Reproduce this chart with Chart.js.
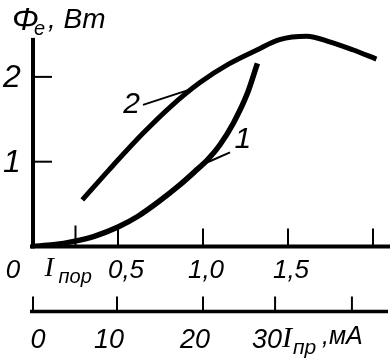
<!DOCTYPE html>
<html>
<head>
<meta charset="utf-8">
<script src="https://cdn.jsdelivr.net/npm/chart.js@4"></script>
<style>
  html, body { margin: 0; padding: 0; background: #fff; }
  #wrap { width: 392px; height: 363px; }
</style>
</head>
<body>
<div id="wrap"><canvas id="lightChart" width="392" height="363"></canvas></div>
<script>
/* DATA: radiant flux vs forward current */
// curve 1
const curve1Current = [0, 0.12, 0.24, 0.36, 0.5, 0.62, 0.74, 0.86, 0.95, 1.03, 1.10, 1.18, 1.26, 1.32];
const curve1Flux    = [0, 0.02, 0.06, 0.12, 0.23, 0.36, 0.53, 0.72, 0.88, 1.03, 1.20, 1.46, 1.80, 2.16];
// curve 2
const curve2Current = [0.29, 0.45, 0.65, 0.81, 0.98, 1.15, 1.32, 1.45, 1.61, 1.75, 1.88, 2.02];
const curve2Flux    = [0.55, 0.91, 1.34, 1.65, 1.93, 2.15, 2.32, 2.44, 2.48, 2.41, 2.32, 2.21];

// tick values and labels
const xTickValues = [0.25, 0.5, 1.0, 1.5, 2.0];
const xTickLabels = ['I', '0,5', '1,0', '1,5', ''];   // first one gets the "пор" subscript
const yTickValues = [1, 2];
const yTickLabels = ['1', '2'];
const mATickAt    = [0, 0.494, 1.0, 1.424, 1.876];  // where the mA ticks sit on the main scale
const mATickLabels = ['0', '10', '20', '30', ''];

/*========================================================== */
const ink = '#000';
const sans = (size) => `italic ${size}px "Liberation Sans", Arial, sans-serif`;
const serif = (size) => `italic ${size}px "Liberation Serif", serif`;

function toPoints(xs, ys) {
    return xs.map((v, i) => ({ x: v, y: ys[i] }));
}

// leader lines for the curve numbers (data coordinates)
const leader1 = [{ x: 1.0, y: 0.97 }, { x: 1.159, y: 1.11 }];
const leader2 = [{ x: 0.953, y: 1.87 }, { x: 0.647, y: 1.67 }];

// Axes, ticks and texts drawn by hand (ticks point inward like the book figure)
const handAxes = {
    id: 'handAxes',
    afterDatasetsDraw(chart) {
        const { ctx, scales: { x, y } } = chart;
        const x0 = x.getPixelForValue(0);
        const y0 = y.getPixelForValue(0);
        const yMa = y0 + 65; // second (mA) axis

        function seg(ax, ay, bx, by, w) {
            ctx.lineWidth = w;
            ctx.beginPath();
            ctx.moveTo(ax, ay);
            ctx.lineTo(bx, by);
            ctx.stroke();
        }

        ctx.save();
        ctx.strokeStyle = ink;
        ctx.fillStyle = ink;
        ctx.lineCap = 'butt';

        // axis lines
        seg(x0, y0 + 2, x0, y.getPixelForValue(2.46), 4);
        seg(x0 - 3, y0, x.right, y0, 4);
        seg(x0 - 3, yMa, x.right - 2, yMa, 3.5);

        // main x ticks
        xTickValues.forEach((v, i) => {
            const px = x.getPixelForValue(v);
            seg(px, y0, px, y0 - (i === 0 ? 21 : 18), 2);
        });
        // y ticks
        yTickValues.forEach(v => {
            const py = y.getPixelForValue(v);
            seg(x0, py, x0 + 19, py, 2);
        });
        // mA ticks
        mATickAt.forEach(v => {
            const px = x.getPixelForValue(v);
            seg(px, yMa, px, yMa - 15, 2);
        });

        // y tick labels
        ctx.textAlign = 'center';
        ctx.textBaseline = 'middle';
        ctx.font = sans(32);
        yTickValues.forEach((v, i) => {
            ctx.fillText(yTickLabels[i], x0 - 21, y.getPixelForValue(v) + 1);
        });

        // main x labels
        ctx.textBaseline = 'alphabetic';
        ctx.font = sans(26);
        ctx.fillText('0', x0 - 20, y0 + 31);
        xTickValues.forEach((v, i) => {
            const px = x.getPixelForValue(v);
            if (i === 0) {
                ctx.textAlign = 'left';
                ctx.font = serif(28);
                ctx.fillText(xTickLabels[i], px - 31, y0 + 29);
                ctx.font = sans(20);
                ctx.fillText('пор', px - 17, y0 + 36);
                ctx.textAlign = 'center';
                ctx.font = sans(26);
            } else {
                ctx.fillText(xTickLabels[i], px + (i === 1 ? 8 : 3), y0 + 31);
            }
        });

        // mA labels
        ctx.font = sans(27);
        mATickAt.forEach((v, i) => {
            ctx.fillText(mATickLabels[i], x.getPixelForValue(v) + (i === 0 ? 5 : -8), yMa + 36);
        });
        ctx.textAlign = 'left';
        ctx.font = serif(30);
        ctx.fillText('I', 282, yMa + 35);
        ctx.font = sans(21);
        ctx.fillText('пр', 293, yMa + 42);
        ctx.font = sans(25);
        ctx.fillText(',мА', 322, yMa + 32);

        // y axis title
        ctx.font = sans(32);
        ctx.fillText('Φ', 12, 30);
        ctx.font = sans(20);
        ctx.fillText('e', 34, 35);
        ctx.font = sans(28);
        ctx.fillText(', Вт', 48, 28);

        // curve numbers
        ctx.textAlign = 'center';
        ctx.textBaseline = 'middle';
        ctx.font = sans(30);
        ctx.fillText('2', x.getPixelForValue(0.58), y.getPixelForValue(1.67));
        ctx.fillText('1', x.getPixelForValue(1.235), y.getPixelForValue(1.26));

        ctx.restore();
    }
};

function initializeLightChart() {
    const data = {
        datasets: [
            {
                label: '1',
                data: toPoints(curve1Current, curve1Flux),
                borderColor: ink,
                borderWidth: 5.5,
                cubicInterpolationMode: 'monotone',
                pointRadius: 0,
            },
            {
                label: '2',
                data: toPoints(curve2Current, curve2Flux),
                borderColor: ink,
                borderWidth: 5,
                cubicInterpolationMode: 'monotone',
                pointRadius: 0,
            },
            {
                label: 'leader 1',
                data: leader1,
                borderColor: ink,
                borderWidth: 2,
                pointRadius: 0,
            },
            {
                label: 'leader 2',
                data: leader2,
                borderColor: ink,
                borderWidth: 2,
                pointRadius: 0,
            },
        ]
    };

    const config = {
        type: 'line',
        data: data,
        options: {
            responsive: false,
            animation: false,
            devicePixelRatio: 1,
            layout: {
                padding: { left: 33, right: 2, top: 26, bottom: 116.5 }
            },
            plugins: {
                legend: { display: false },
                tooltip: { enabled: false },
            },
            scales: {
                x: { type: 'linear', min: 0, max: 2.1, display: false },
                y: { type: 'linear', min: 0, max: 2.6, display: false },
            },
        },
        plugins: [handAxes],
    };

    const ctx = document.getElementById('lightChart').getContext('2d');
    new Chart(ctx, config);
}

document.addEventListener('DOMContentLoaded', initializeLightChart);
</script>
</body>
</html>
